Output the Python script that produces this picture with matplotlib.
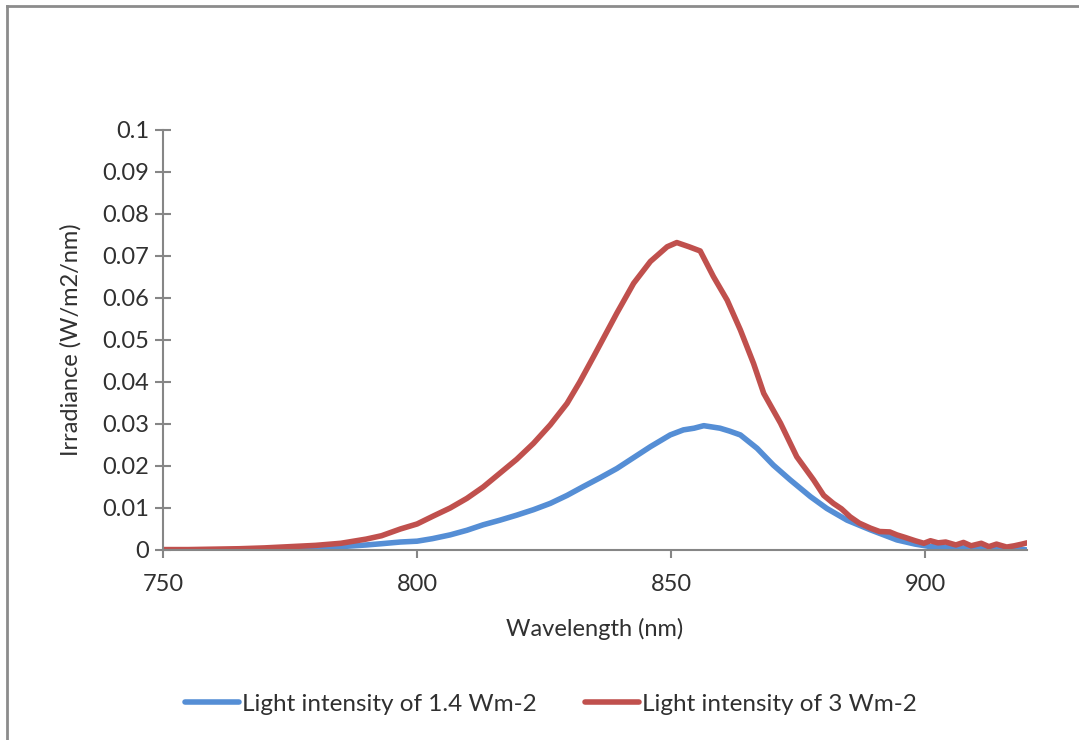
import matplotlib.pyplot as plt
from matplotlib.lines import Line2D

# red series: 3 Wm-2
wl_high = [750, 755, 760, 765, 770, 775, 780, 785, 790, 793, 796.7, 800, 803.2, 806.5,
           809.8, 813, 816.3, 819.6, 822.9, 826.2, 829.5, 832, 834.7, 837, 839.3, 842.6,
           845.9, 849.2, 851.1, 853.5, 855.7, 858.3, 861, 863.6, 866.2, 868.2, 871.5,
           874.7, 878, 880, 881.9, 883.5, 885.2, 887, 889.2, 891, 893, 894.4, 896, 898,
           899.7, 901, 902.5, 904, 906, 907.5, 909, 911, 912.5, 914, 916, 917.5, 919, 920]
irr_high = [0.0001, 0.0001, 0.0002, 0.0003, 0.0005, 0.0008, 0.0011, 0.0016, 0.0026, 0.0034,
            0.0050, 0.0062, 0.0081, 0.0100, 0.0123, 0.0150, 0.0183, 0.0216, 0.0254, 0.0298,
            0.0349, 0.0400, 0.0460, 0.0512, 0.0564, 0.0635, 0.0687, 0.0722, 0.0732, 0.0722,
            0.0712, 0.0651, 0.0595, 0.0524, 0.0444, 0.0373, 0.0302, 0.0222, 0.0167, 0.0130,
            0.0111, 0.0098, 0.0079, 0.0064, 0.0052, 0.0044, 0.0043, 0.0036, 0.0030, 0.0022,
            0.0016, 0.0022, 0.0017, 0.0019, 0.0012, 0.0018, 0.0010, 0.0016, 0.0008, 0.0014,
            0.0007, 0.0010, 0.0014, 0.0017]

# blue series: 1.4 Wm-2
wl_low = [750, 760, 770, 775, 780, 785, 790, 793, 796.7, 800, 803, 806.5, 809.8, 813,
          816.3, 819.6, 822.9, 826.2, 829.5, 832.7, 836, 839.3, 842.6, 845.9, 849.8,
          852.4, 854.5, 856.4, 859.6, 861.5, 863.6, 866.9, 870.1, 873.4, 877.4, 880.6,
          884.6, 889.2, 894.4, 898, 901, 905, 910, 915, 918, 920]
irr_low = [0.0, 0.0, 0.0002, 0.0003, 0.0005, 0.0008, 0.0012, 0.0015, 0.0019, 0.0021,
           0.0027, 0.0036, 0.0047, 0.0060, 0.0071, 0.0083, 0.0096, 0.0111, 0.0130, 0.0151,
           0.0172, 0.0194, 0.0220, 0.0246, 0.0274, 0.0286, 0.0290, 0.0296, 0.0290, 0.0283,
           0.0274, 0.0242, 0.0202, 0.0167, 0.0127, 0.0099, 0.0071, 0.0048, 0.0024, 0.0014,
           0.0008, 0.0006, 0.0004, 0.0005, 0.0003, 0.0000]

x_ticks = [750, 800, 850, 900]
y_ticks = [0, 0.01, 0.02, 0.03, 0.04, 0.05, 0.06, 0.07, 0.08, 0.09, 0.1]
y_labels = ['0', '0.01', '0.02', '0.03', '0.04', '0.05', '0.06', '0.07', '0.08', '0.09', '0.1']

label_low = 'Light intensity of 1.4 Wm-2'
label_high = 'Light intensity of 3 Wm-2'

blue = '#558ED5'
red = '#C0504D'
grey = '#868686'
txt = '#303030'
fs = 17

plt.rcParams['font.family'] = ['Lato', 'DejaVu Sans']

fig = plt.figure(figsize=(10.79, 7.40), dpi=100)
ax = fig.add_axes([163 / 1079, 1 - 550 / 740, 864 / 1079, 420 / 740])

ax.plot(wl_low, irr_low, color=blue, lw=4, solid_capstyle='round', label=label_low)
ax.plot(wl_high, irr_high, color=red, lw=4, solid_capstyle='round', label=label_high)

ax.set_xlim(750, 920)
ax.set_ylim(0, 0.1)
ax.set_xticks(x_ticks)
ax.set_yticks(y_ticks)
ax.set_yticklabels(y_labels)

for s in ['top', 'right']:
    ax.spines[s].set_visible(False)
for s in ['left', 'bottom']:
    ax.spines[s].set_color(grey)
    ax.spines[s].set_linewidth(1.5)

ax.tick_params(axis='y', direction='inout', length=12, width=1.5, color=grey,
               labelsize=fs, labelcolor=txt, pad=4)
ax.tick_params(axis='x', direction='out', length=6, width=1.5, color=grey,
               labelsize=fs, labelcolor=txt, pad=11)

ax.set_xlabel('Wavelength (nm)', fontsize=fs, color=txt, labelpad=17)
ax.set_ylabel('Irradiance (W/m2/nm)', fontsize=fs, color=txt, labelpad=15)

leg = fig.legend(loc='center', bbox_to_anchor=(551 / 1079, 1 - 704 / 740), ncol=2,
                 frameon=False, fontsize=17.5, handlelength=2.2, handletextpad=0.12,
                 columnspacing=2.0)
for t in leg.get_texts():
    t.set_color(txt)

# chart-area border (only left and top edges visible)
fig.add_artist(Line2D([7 / 1079, 7 / 1079], [0, 1 - 6 / 740], transform=fig.transFigure,
                      color='#8c8c8c', lw=2))
fig.add_artist(Line2D([7 / 1079, 1], [1 - 6 / 740, 1 - 6 / 740], transform=fig.transFigure,
                      color='#8c8c8c', lw=2))

plt.savefig('out.png', dpi=100)
